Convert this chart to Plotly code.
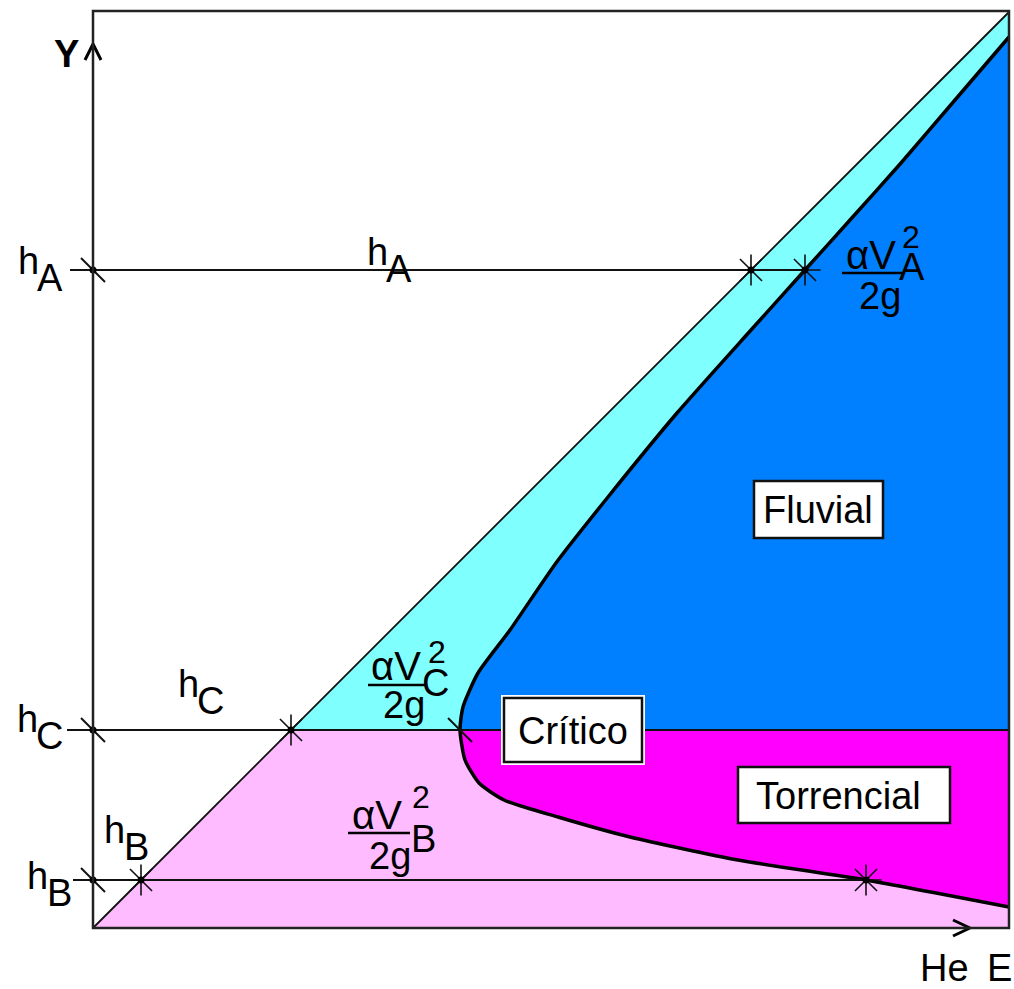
import plotly.graph_objects as go

# Depths marked on the Y axis (same units as the energy axis)
h_A = 658
h_B = 48
h_C = 198
E_MAX = 916
Y_MAX = 917

# Specific energy curve, subcritical branch (top right down to the critical point)
upper_E = [916, 862, 808, 757, 712, 658, 584, 515, 463, 417, 385, 370, 367]
upper_y = [891, 828, 765, 708, 658, 598, 515, 431, 365, 298, 255, 221, 198]
# Supercritical branch (critical point down to the right edge)
lower_E = [367, 372, 386, 411, 465, 537, 645, 773, 916]
lower_y = [198, 168, 145, 128, 111, 91, 68, 48, 21]

# Energy reached by each depth on the curve
E_A = 712
E_B = 773
E_C = 367

CYAN = "#80FFFF"
BLUE = "#0080FF"
MAGENTA = "#FF00FF"
PINK = "#FFBBFF"
INK = "#111"
FONT = "Liberation Sans"
FS = 38

W, H = 1014, 989
X0, Y0 = 93, 928  # origin of the E-Y axes on the page


def pix(xp, yp):
    return xp - X0, Y0 - yp


fig = go.Figure()


def poly(xs, ys, color):
    fig.add_trace(go.Scatter(x=xs, y=ys, mode="lines", fill="toself",
                             fillcolor=color, line=dict(width=0, color=color),
                             hoverinfo="skip", showlegend=False))


# Coloured regions
poly([h_C, E_MAX] + upper_E, [h_C, E_MAX] + upper_y, CYAN)
poly(upper_E + [E_MAX], upper_y + [h_C], BLUE)
poly(lower_E + [E_MAX], lower_y + [h_C], MAGENTA)
poly([0, h_C] + lower_E + [E_MAX], [0, h_C] + lower_y + [0], PINK)


def line(xs, ys, width=2.0, color=INK, shape="linear", smoothing=None):
    ln = dict(width=width, color=color, shape=shape)
    if smoothing is not None:
        ln["smoothing"] = smoothing
    fig.add_trace(go.Scatter(x=xs, y=ys, mode="lines", line=ln,
                             hoverinfo="skip", showlegend=False))


# 45-degree line E = y
line([0, E_MAX], [0, E_MAX], width=1.8)
# Horizontal depth lines
line([-23, E_A], [h_A, h_A])
line([-26, E_MAX], [h_C, h_C])
line([-20, E_B], [h_B, h_B])
# Specific energy curve
line(upper_E + lower_E[1:], upper_y + lower_y[1:], width=3.5, color="#000",
     shape="spline", smoothing=0.6)

# Axis arrowheads
ax, ay = pix(85, 60)
bx, by = pix(93, 44)
cx, cy = pix(101, 60)
line([ax, bx, cx], [ay, by, cy], width=3, color="#000")
ax, ay = pix(953, 920)
bx, by = pix(970, 928)
cx, cy = pix(953, 936)
line([ax, bx, cx], [ay, by, cy], width=3, color="#000")

# Tick marks on the axis and at the critical point
fig.add_trace(go.Scatter(x=[0, 0, 0, E_C], y=[h_A, h_C, h_B, h_C], mode="markers",
                         marker=dict(symbol="line-nw-open", size=24, color=INK,
                                     line=dict(width=2, color=INK)),
                         hoverinfo="skip", showlegend=False))
# Star marks where the depth lines meet the 45-degree line and the curve
star_x = [h_A, E_A, h_C, h_B, E_B]
star_y = [h_A, h_A, h_C, h_B, h_B]
fig.add_trace(go.Scatter(x=star_x, y=star_y, mode="markers",
                         marker=dict(symbol="asterisk-open", size=26, color=INK,
                                     line=dict(width=1.6, color=INK)),
                         hoverinfo="skip", showlegend=False))
fig.add_trace(go.Scatter(x=[0, 0, 0] + star_x, y=[h_A, h_C, h_B] + star_y,
                         mode="markers",
                         marker=dict(symbol="circle", size=7, color="#000"),
                         hoverinfo="skip", showlegend=False))

annotations = []


def text(s, xp, yp, size=FS, bold=False, anchor="center"):
    x, y = pix(xp, yp)
    if bold:
        s = "<b>" + s + "</b>"
    annotations.append(dict(x=x, y=y, xref="x", yref="y", text=s,
                            showarrow=False, xanchor=anchor, yanchor="middle",
                            borderpad=0,
                            font=dict(family=FONT, size=size, color="#000")))


# Axis titles
text("Y", 66, 54, bold=True)
text("He", 944, 968)
text("E", 1013, 968, anchor="right")

# Depth labels: letter h with its subscript
for hx, hy, sub in [(28, 261, "A"), (377, 252, "A"), (27, 719, "C"),
                    (188, 684, "C"), (37, 876, "B"), (114, 830, "B")]:
    text("h", hx, hy)
    text(sub, hx + 22, hy + 17)

shapes = []


def frac(cx_num, cy_num, cx_den, cy_den, bar_x0, bar_x1, bar_y, sub, sx, sy, px, py):
    text("\u03b1V", cx_num, cy_num, size=40)
    text("2g", cx_den, cy_den)
    text("2", px, py, size=32)
    text(sub, sx, sy)
    x0, y0 = pix(bar_x0, bar_y)
    x1, _ = pix(bar_x1, bar_y)
    shapes.append(dict(type="line", xref="x", yref="y", x0=x0, x1=x1, y0=y0, y1=y0,
                       line=dict(color="#000", width=2.5)))


# Velocity-head fractions  alpha V^2 / 2g
frac(871, 255, 880, 296, 842, 902, 273, "A", 912, 267, 911, 237)
frac(396, 666, 404, 705, 368, 425, 685, "C", 435, 683, 437, 652)
frac(377, 815, 390, 856, 348, 410, 833, "B", 423, 839, 421, 797)


def box(label, x0p, y0p, x1p, y1p, tx, ty, halo=False):
    x0, y0 = pix(x0p, y0p)
    x1, y1 = pix(x1p, y1p)
    if halo:
        shapes.append(dict(type="rect", xref="x", yref="y", x0=x0 - 3, x1=x1 + 3,
                           y0=y0 + 3, y1=y1 - 3, fillcolor="#fff",
                           line=dict(width=0)))
    shapes.append(dict(type="rect", xref="x", yref="y", x0=x0, x1=x1, y0=y0, y1=y1,
                       fillcolor="#fff", line=dict(color=INK, width=2.5)))
    text(label, tx, ty)


box("Fluvial", 754, 481, 883, 538, 818, 510)
box("Crítico", 504, 698, 642, 762, 573, 731, halo=True)
box("Torrencial", 738, 767, 950, 823, 838, 796)

# Outer frame of the diagram
shapes.append(dict(type="rect", xref="x", yref="y", x0=0, x1=E_MAX, y0=0, y1=Y_MAX,
                   line=dict(color="#222", width=2.5), layer="above"))

fig.update_layout(
    width=W, height=H,
    margin=dict(l=0, r=0, t=0, b=0),
    paper_bgcolor="#fff", plot_bgcolor="#fff",
    xaxis=dict(range=[-X0, W - X0], visible=False, fixedrange=True),
    yaxis=dict(range=[Y0 - H, Y0], visible=False, fixedrange=True),
    shapes=shapes, annotations=annotations,
    showlegend=False,
)

fig.write_html("out.html")
